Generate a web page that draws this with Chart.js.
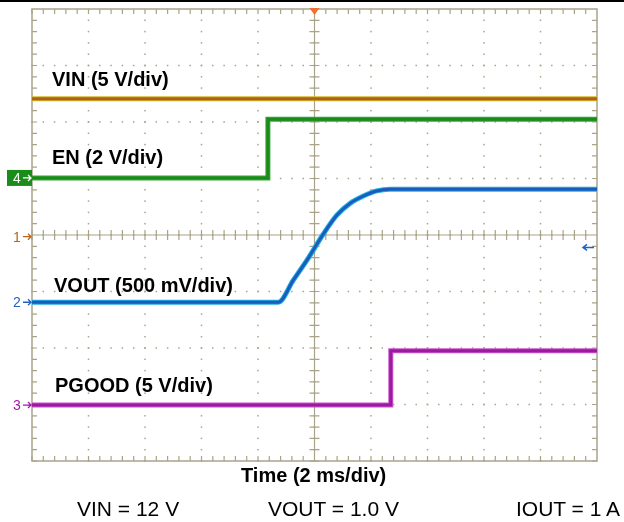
<!DOCTYPE html>
<html>
<head>
<meta charset="utf-8">
<script src="https://cdn.jsdelivr.net/npm/chart.js@4.4.1/dist/chart.umd.min.js"></script>
<style>
  body { margin: 0; background: #fff; }
  #wrap { position: relative; width: 624px; height: 522px; overflow: hidden; border-top: 2px solid #000; box-sizing: border-box; }
  #wrap canvas { position: absolute; left: 0; top: -2px; }
  .lbl { position: absolute; font-family: "Liberation Sans", Arial, sans-serif; line-height: 1; white-space: nowrap; color: #000; }
  .b { font-weight: bold; font-size: 20px; }
  .r { font-size: 21px; }
</style>
</head>
<body>
<div id="wrap">
  <canvas id="scope" width="624" height="522"></canvas>
  <div class="lbl b" style="left:52px; top:67px;">VIN (5 V/div)</div>
  <div class="lbl b" style="left:52px; top:145px;">EN (2 V/div)</div>
  <div class="lbl b" style="left:54px; top:273px;">VOUT (500 mV/div)</div>
  <div class="lbl b" style="left:55px; top:373px;">PGOOD (5 V/div)</div>
  <div class="lbl b" style="left:241px; top:463px;">Time (2 ms/div)</div>
  <div class="lbl r" style="left:77px; top:496px;">VIN = 12 V</div>
  <div class="lbl r" style="left:268px; top:496px;">VOUT = 1.0 V</div>
  <div class="lbl r" style="left:516px; top:496px;">IOUT = 1 A</div>
</div>
<script>
// time in ms (2 ms/div, trigger at 0), level in screen divisions from centre
var vinT = [-10, 10];
var vinY = [2.41, 2.41];
var enT = [-10, -1.65, -1.65, 10];
var enY = [1.01, 1.01, 2.05, 2.05];
var voutT = [-10, -1.28, -0.75, -0.22, 0.29, 0.79, 1.26, 1.73, 2.20, 2.67, 10];
var voutY = [-1.19, -1.19, -0.80, -0.41, 0, 0.35, 0.56, 0.69, 0.78, 0.81, 0.81];
var pgoodT = [-10, 2.70, 2.70, 10];
var pgoodY = [-3.01, -3.01, -2.05, -2.05];

// channel ground markers on the left edge
var markerNames = ['1', '2', '3', '4'];
var markerLevels = [-0.03, -1.19, -3.01, 1.01];
var markerColors = ['#b5651d', '#1f63c4', '#a21aa6', '#1a8c1a'];

var xDivs = [-10, -8, -6, -4, -2, 0, 2, 4, 6, 8, 10];
var yDivs = [-4, -3, -2, -1, 0, 1, 2, 3, 4];

var gridColor = '#aaa38a';

function pts(t, v) {
    return t.map((x, i) => ({x: x, y: v[i]}));
}

const graticule = {
    id: 'graticule',
    beforeDatasetsDraw(chart) {
        const ctx = chart.ctx;
        const a = chart.chartArea;
        const xs = chart.scales.x, ys = chart.scales.y;
        ctx.save();
        ctx.fillStyle = gridColor;
        ctx.strokeStyle = gridColor;

        // dotted division lines
        let xMinor = [], yMinor = [];
        for (let i = 0; i < xDivs.length - 1; i++)
            for (let k = 0; k < 5; k++) xMinor.push(xs.getPixelForValue(xDivs[i] + k * 0.4));
        for (let i = 0; i < yDivs.length - 1; i++)
            for (let k = 0; k < 5; k++) yMinor.push(ys.getPixelForValue(yDivs[i] + k * 0.2));

        xDivs.slice(1, -1).forEach(v => {
            const px = xs.getPixelForValue(v);
            yMinor.forEach(py => ctx.fillRect(px - 0.75, py - 0.75, 1.5, 1.5));
        });
        yDivs.slice(1, -1).forEach(v => {
            const py = ys.getPixelForValue(v);
            xMinor.forEach(px => ctx.fillRect(px - 0.75, py - 0.75, 1.5, 1.5));
        });

        // frame
        ctx.lineWidth = 1.5;
        ctx.strokeRect(a.left, a.top, a.right - a.left, a.bottom - a.top);

        ctx.lineWidth = 1.2;
        ctx.beginPath();
        // edge ticks
        xMinor.forEach(px => {
            ctx.moveTo(px, a.top); ctx.lineTo(px, a.top + 5);
            ctx.moveTo(px, a.bottom); ctx.lineTo(px, a.bottom - 5);
        });
        yMinor.forEach(py => {
            ctx.moveTo(a.left, py); ctx.lineTo(a.left + 5, py);
            ctx.moveTo(a.right, py); ctx.lineTo(a.right - 5, py);
        });
        // centre axes with ticks
        const cx = xs.getPixelForValue(0), cy = ys.getPixelForValue(0);
        ctx.moveTo(cx, a.top); ctx.lineTo(cx, a.bottom);
        ctx.moveTo(a.left, cy); ctx.lineTo(a.right, cy);
        xMinor.forEach(px => { ctx.moveTo(px, cy - 5); ctx.lineTo(px, cy + 5); });
        yMinor.forEach(py => { ctx.moveTo(cx - 5, py); ctx.lineTo(cx + 5, py); });
        ctx.stroke();
        ctx.restore();
    },
    afterDatasetsDraw(chart) {
        const ctx = chart.ctx;
        const a = chart.chartArea;
        const xs = chart.scales.x, ys = chart.scales.y;
        ctx.save();
        ctx.font = '14px "Liberation Sans", Arial, sans-serif';
        ctx.textBaseline = 'middle';
        ctx.textAlign = 'center';
        markerNames.forEach((name, i) => {
            const py = ys.getPixelForValue(markerLevels[i]);
            const col = markerColors[i];
            if (name === '4') {
                ctx.fillStyle = col;
                ctx.fillRect(7, py - 8, a.left - 7, 16);
                ctx.fillStyle = '#fff';
                ctx.strokeStyle = '#fff';
            } else {
                ctx.fillStyle = col;
                ctx.strokeStyle = col;
            }
            ctx.fillText(name, 17, py + 1);
            ctx.lineWidth = 1.3;
            ctx.beginPath();
            ctx.moveTo(23, py); ctx.lineTo(a.left - 1, py);
            ctx.moveTo(a.left - 4, py - 3); ctx.lineTo(a.left - 1, py); ctx.lineTo(a.left - 4, py + 3);
            ctx.stroke();
        });

        // cursor arrow on the right
        const ry = ys.getPixelForValue(-0.22);
        ctx.strokeStyle = '#1f63c4';
        ctx.lineWidth = 1.5;
        ctx.beginPath();
        ctx.moveTo(a.right - 3, ry); ctx.lineTo(a.right - 14, ry);
        ctx.moveTo(a.right - 10, ry - 3); ctx.lineTo(a.right - 14, ry); ctx.lineTo(a.right - 10, ry + 3);
        ctx.stroke();

        // trigger position
        const tx = xs.getPixelForValue(0);
        ctx.fillStyle = '#f07030';
        ctx.beginPath();
        ctx.moveTo(tx - 5, a.top - 1); ctx.lineTo(tx + 5, a.top - 1); ctx.lineTo(tx, a.top + 6);
        ctx.closePath();
        ctx.fill();
        ctx.restore();
    }
};

// core line first: dataset 0 ends up on top in Chart.js
function trace(t, v, core, halo, smooth) {
    const mode = smooth ? 'monotone' : 'default';
    return [
        {data: pts(t, v), borderColor: core, borderWidth: 3, cubicInterpolationMode: mode},
        {data: pts(t, v), borderColor: halo, borderWidth: 5, cubicInterpolationMode: mode}
    ];
}

new Chart('scope', {
    type: 'line',
    data: {
        datasets: [].concat(
            trace(pgoodT, pgoodY, '#9c1aa0', '#c855cc'),
            trace(voutT, voutY, '#1a5cbc', '#22b0e0', true),
            trace(enT, enY, '#1a8a1a', '#3aa83a'),
            trace(vinT, vinY, '#b0601c', '#d0b828')
        )
    },
    options: {
        responsive: false,
        animation: false,
        layout: {padding: {left: 32, top: 9, right: 27, bottom: 61}},
        elements: {point: {radius: 0}, line: {tension: 0, borderCapStyle: 'butt'}},
        scales: {
            x: {type: 'linear', min: -10, max: 10, display: false},
            y: {type: 'linear', min: -4, max: 4, display: false}
        },
        plugins: {legend: {display: false}, tooltip: {enabled: false}}
    },
    plugins: [graticule]
});
</script>
</body>
</html>
